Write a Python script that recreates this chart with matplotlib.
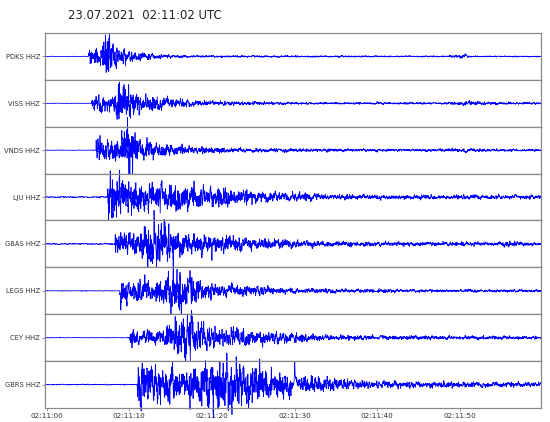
# seismogramas de 8 estações (componente HHZ) para o evento de 23.07.2021
import matplotlib.pyplot as plt
import numpy as np

titulo = "23.07.2021  02:11:02 UTC"
estacoes = ["PDKS HHZ", "VISS HHZ", "VNDS HHZ", "LJU HHZ",
            "GBAS HHZ", "LEGS HHZ", "CEY HHZ", "GBRS HHZ"]
xticks = [0, 10, 20, 30, 40, 50]
xlabels = ["02:11:00", "02:11:10", "02:11:20", "02:11:30", "02:11:40", "02:11:50"]

# envoltória: tempos (s depois de 02:11:00) e amplitude (1 = meia altura do painel)
env_t = [
    [-0.2, 5.05, 5.1, 6.5, 7.2, 7.6, 8.2, 9.0, 11.0, 15.0, 20.0, 48.5, 49.8, 50.6, 51.5, 59.8],
    [-0.2, 5.45, 5.5, 8.0, 8.8, 9.3, 10.0, 11.5, 13.0, 16.0, 20.0, 30.0, 48.0, 51.3, 52.5, 59.8],
    [-0.2, 5.95, 6.0, 8.5, 9.6, 10.2, 11.0, 14.0, 18.0, 24.0, 44.0, 48.0, 52.0, 55.0, 59.8],
    [-0.2, 7.35, 7.4, 8.3, 9.5, 15.0, 20.0, 25.0, 35.0, 49.5, 50.3, 51.0, 59.8],
    [-0.2, 8.25, 8.3, 11.0, 12.5, 13.4, 14.5, 16.0, 20.0, 25.0, 35.0, 54.5, 55.7, 57.0, 59.8],
    [-0.2, 8.85, 8.9, 10.0, 13.0, 15.0, 15.9, 17.0, 19.0, 22.0, 30.0, 49.0, 51.0, 53.0, 59.8],
    [-0.2, 10.05, 10.1, 11.0, 14.0, 16.3, 17.2, 18.5, 20.0, 23.0, 30.0, 35.0, 59.8],
    [-0.2, 10.95, 11.0, 12.0, 14.0, 16.0, 18.5, 21.0, 23.3, 25.0, 27.0, 30.0, 35.0, 40.0, 59.8],
]
env_a = [
    [0.01, 0.01, 0.3, 0.32, 1.15, 1.0, 0.55, 0.35, 0.15, 0.06, 0.04, 0.025, 0.09, 0.07, 0.025, 0.02],
    [0.01, 0.01, 0.32, 0.32, 1.1, 1.0, 0.6, 0.38, 0.3, 0.16, 0.09, 0.045, 0.04, 0.09, 0.06, 0.04],
    [0.01, 0.01, 0.5, 0.42, 1.05, 1.1, 0.45, 0.25, 0.14, 0.08, 0.045, 0.07, 0.08, 0.045, 0.045],
    [0.025, 0.025, 1.15, 1.05, 0.65, 0.6, 0.45, 0.25, 0.1, 0.08, 0.13, 0.08, 0.08],
    [0.025, 0.025, 0.42, 0.48, 1.0, 1.1, 0.8, 0.5, 0.38, 0.22, 0.1, 0.07, 0.14, 0.08, 0.07],
    [0.012, 0.012, 0.6, 0.42, 0.42, 0.7, 1.1, 0.6, 0.35, 0.25, 0.1, 0.05, 0.07, 0.05, 0.06],
    [0.012, 0.012, 0.55, 0.32, 0.32, 0.9, 1.1, 0.65, 0.45, 0.35, 0.18, 0.1, 0.06],
    [0.018, 0.018, 1.05, 0.9, 0.7, 0.7, 0.9, 1.0, 1.05, 0.85, 0.6, 0.42, 0.25, 0.14, 0.09],
]

fs = 100.0
t = np.arange(-0.2, 59.8, 1 / fs)

# forma de onda base (oscilação fixa) modulada pela envoltória de cada estação
freqs = [0.9, 1.7, 2.6, 3.3, 4.1, 5.2, 6.3, 7.4, 8.9, 10.6, 12.8, 15.3, 18.5, 22.7]
pesos = [0.5, 0.7, 0.9, 1.0, 0.9, 0.8, 0.75, 0.7, 0.6, 0.55, 0.5, 0.45, 0.4, 0.35]

def onda(i):
    s = np.zeros_like(t)
    for k in range(len(freqs)):
        fase = 1.9 * k + 2.7 * i + 0.6 * k * i
        s += pesos[k] * np.sin(2 * np.pi * freqs[k] * t + fase
                               + 2.5 * np.sin(2 * np.pi * 0.31 * (k + 1) * t + fase * 0.7))
    return s / np.percentile(np.abs(s), 96)

fig, ax = plt.subplots(len(estacoes), 1, figsize=(5.5, 4.22), dpi=100, sharex=True)
fig.subplots_adjust(left=0.0818, right=0.9836, top=0.9218, bottom=0.0332, hspace=0)

for i in range(len(estacoes)):
    env = np.interp(t, env_t[i], env_a[i])
    y = onda(i) * env
    ax[i].plot(t, y, color="blue", lw=0.55, clip_on=False)
    ax[i].set_ylim(-1.05, 1.05)
    ax[i].set_xlim(-0.2, 59.8)
    ax[i].set_yticks([0])
    ax[i].set_yticklabels([estacoes[i]], fontsize=4.9, color="#333333")
    ax[i].tick_params(axis="both", length=2.5, width=0.6, color="#888888", pad=1)
    for sp in ax[i].spines.values():
        sp.set_color("#888888")
        sp.set_linewidth(0.9)

ax[-1].set_xticks(xticks)
ax[-1].set_xticklabels(xlabels, fontsize=5.2, color="#333333")

fig.text(0.124, 0.964, titulo, ha="left", va="center", fontsize=8.4, color="#222222")

plt.savefig("out.png", dpi=100)
